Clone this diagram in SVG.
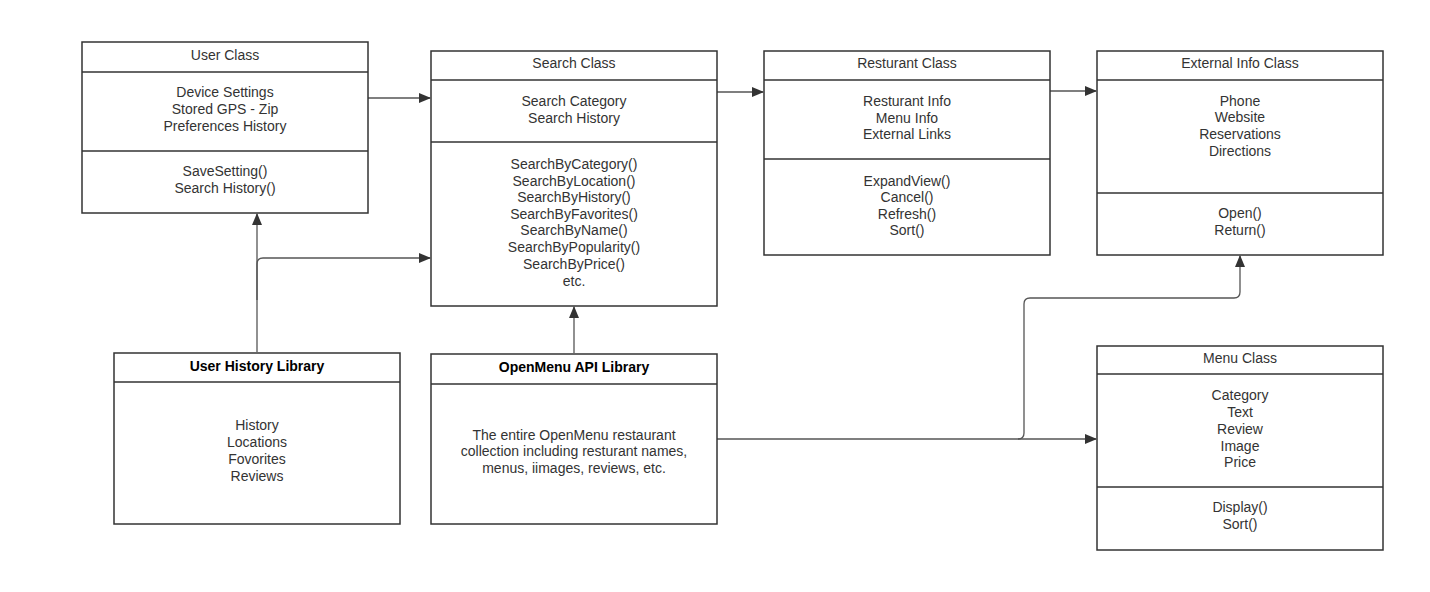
<svg xmlns="http://www.w3.org/2000/svg" width="1430" height="592" viewBox="0 0 1430 592">
<style>
.box{fill:#fff;stroke:#333;stroke-width:1.5}
.div{stroke:#333;stroke-width:1.5}
text{font-family:"Liberation Sans",Arial,sans-serif;font-size:14px;fill:#333;text-anchor:middle}
.b{font-weight:bold;fill:#000}
.c{fill:none;stroke:#555;stroke-width:1.3}
</style>
<defs>
<marker id="ah" markerWidth="12" markerHeight="10" refX="11" refY="5" orient="auto" markerUnits="userSpaceOnUse">
<path d="M0,0 L12,5 L0,10 Z" fill="#333"/>
</marker>
</defs>
<rect width="1430" height="592" fill="#fff"/>

<g id="connectors">
<path class="c" d="M368,98 L430,98" marker-end="url(#ah)"/>
<path class="c" d="M717,92 L763,92" marker-end="url(#ah)"/>
<path class="c" d="M1050,91 L1096,91" marker-end="url(#ah)"/>
<path class="c" d="M257,352 L257,214" marker-end="url(#ah)"/>
<path class="c" d="M257,300 L257,264 Q257,258 263,258 L430,258" marker-end="url(#ah)"/>
<path class="c" d="M574,353 L574,307" marker-end="url(#ah)"/>
<path class="c" d="M717,439 L1096,439" marker-end="url(#ah)"/>
<path class="c" d="M1018,439 Q1024,439 1024,433 L1024,304 Q1024,298 1030,298 L1234,298 Q1240,298 1240,292 L1240,256" marker-end="url(#ah)"/>
</g>

<g id="user-class">
<rect class="box" x="82" y="42" width="286" height="171"/>
<line class="div" x1="82" y1="72" x2="368" y2="72"/>
<line class="div" x1="82" y1="151" x2="368" y2="151"/>
<text x="225" y="60">User Class</text>
<text x="225" y="97">Device Settings</text>
<text x="225" y="114">Stored GPS - Zip</text>
<text x="225" y="131">Preferences History</text>
<text x="225" y="176">SaveSetting()</text>
<text x="225" y="193">Search History()</text>
</g>

<g id="search-class">
<rect class="box" x="431" y="51" width="286" height="255"/>
<line class="div" x1="431" y1="80" x2="717" y2="80"/>
<line class="div" x1="431" y1="142" x2="717" y2="142"/>
<text x="574" y="68">Search Class</text>
<text x="574" y="106">Search Category</text>
<text x="574" y="123">Search History</text>
<text x="574" y="169">SearchByCategory()</text>
<text x="574" y="186">SearchByLocation()</text>
<text x="574" y="202">SearchByHistory()</text>
<text x="574" y="219">SearchByFavorites()</text>
<text x="574" y="235">SearchByName()</text>
<text x="574" y="252">SearchByPopularity()</text>
<text x="574" y="269">SearchByPrice()</text>
<text x="574" y="286">etc.</text>
</g>

<g id="restaurant-class">
<rect class="box" x="764" y="51" width="286" height="204"/>
<line class="div" x1="764" y1="80" x2="1050" y2="80"/>
<line class="div" x1="764" y1="159" x2="1050" y2="159"/>
<text x="907" y="68">Resturant Class</text>
<text x="907" y="106">Resturant Info</text>
<text x="907" y="123">Menu Info</text>
<text x="907" y="139">External Links</text>
<text x="907" y="186">ExpandView()</text>
<text x="907" y="202">Cancel()</text>
<text x="907" y="219">Refresh()</text>
<text x="907" y="235">Sort()</text>
</g>

<g id="external-info-class">
<rect class="box" x="1097" y="51" width="286" height="204"/>
<line class="div" x1="1097" y1="80" x2="1383" y2="80"/>
<line class="div" x1="1097" y1="193" x2="1383" y2="193"/>
<text x="1240" y="68">External Info Class</text>
<text x="1240" y="106">Phone</text>
<text x="1240" y="122">Website</text>
<text x="1240" y="139">Reservations</text>
<text x="1240" y="156">Directions</text>
<text x="1240" y="218">Open()</text>
<text x="1240" y="235">Return()</text>
</g>

<g id="user-history-library">
<rect class="box" x="114" y="353" width="286" height="171"/>
<line class="div" x1="114" y1="382" x2="400" y2="382"/>
<text class="b" x="257" y="371">User History Library</text>
<text x="257" y="430">History</text>
<text x="257" y="447">Locations</text>
<text x="257" y="464">Fovorites</text>
<text x="257" y="481">Reviews</text>
</g>

<g id="openmenu-api-library">
<rect class="box" x="431" y="354" width="286" height="170"/>
<line class="div" x1="431" y1="384" x2="717" y2="384"/>
<text class="b" x="574" y="372">OpenMenu API Library</text>
<text x="574" y="440">The entire OpenMenu restaurant</text>
<text x="574" y="456">collection including resturant names,</text>
<text x="574" y="473">menus, iimages, reviews, etc.</text>
</g>

<g id="menu-class">
<rect class="box" x="1097" y="346" width="286" height="204"/>
<line class="div" x1="1097" y1="374" x2="1383" y2="374"/>
<line class="div" x1="1097" y1="487" x2="1383" y2="487"/>
<text x="1240" y="363">Menu Class</text>
<text x="1240" y="400">Category</text>
<text x="1240" y="417">Text</text>
<text x="1240" y="434">Review</text>
<text x="1240" y="451">Image</text>
<text x="1240" y="467">Price</text>
<text x="1240" y="512">Display()</text>
<text x="1240" y="529">Sort()</text>
</g>
</svg>
